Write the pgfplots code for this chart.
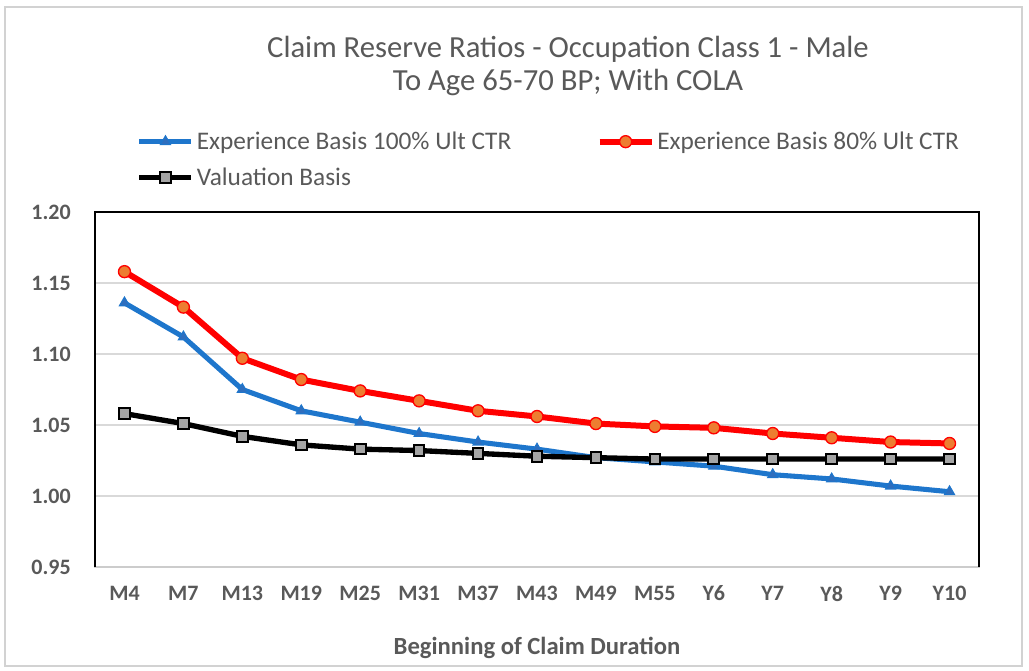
\documentclass[border=0pt]{standalone}
\usepackage{pgfplots}
\pgfplotsset{compat=1.18}
\usepackage{fontspec}
\setmainfont{Carlito}
\definecolor{txt}{RGB}{89,89,89}
\definecolor{bl}{RGB}{30,118,204}
\definecolor{blm}{RGB}{46,110,190}
\definecolor{rd}{RGB}{255,0,0}
\definecolor{org}{RGB}{237,125,49}
\definecolor{gr}{RGB}{165,165,165}
\begin{document}
\begin{tikzpicture}[x=0.75pt,y=0.75pt]
\path[use as bounding box] (0,0) rectangle (1029,671);
\draw[gray!35, line width=0.8pt] (5,664) rectangle (1022,5);
\begin{axis}[
  at={(71.25pt,78pt)}, anchor=south west,
  scale only axis, width=663pt, height=266.25pt,
  xmin=-0.5, xmax=14.5, ymin=0.95, ymax=1.20,
  xtick={0,...,14},
  xticklabels={M4,M7,M13,M19,M25,M31,M37,M43,M49,M55,Y6,Y7,Y8,Y9,Y10},
  ytick={0.95,1.00,1.05,1.10,1.15,1.20},
  yticklabel style={/pgf/number format/fixed,/pgf/number format/fixed zerofill,/pgf/number format/precision=2},
  /pgf/number format/assume math mode=true,
  major tick length=0pt,
  ymajorgrids, grid style={gray!30, line width=1pt},
  axis line style={gray!40, line width=1pt},
  tick label style={font=\fontsize{16.5}{18}\selectfont\bfseries, text=txt},
  yticklabel style={inner sep=0pt, xshift=-18pt},
  xticklabel style={inner sep=0pt, yshift=-14pt},
  xlabel={Beginning of Claim Duration},
  xlabel style={at={(axis description cs:0.5,0)}, anchor=center, yshift=-61pt, font=\fontsize{18.5}{20}\selectfont\bfseries, text=txt},
  legend columns=2,
  legend cell align=left,
  legend style={at={(axis description cs:0.047,1.234)}, anchor=north west, draw=none, fill=none,
    font=\fontsize{19}{21}\selectfont, text=txt, inner sep=0pt,
    /tikz/column 2/.style={column sep=62pt},
    row sep=8pt},
  legend image code/.code={\draw[mark repeat=2,mark phase=2] plot coordinates {(0pt,0pt) (19.5pt,0pt) (39pt,0pt)};},
  clip=false,
]
\addplot[bl, line width=3.8pt, mark=triangle*, mark size=4.4pt, mark options={fill=blm, draw=bl, line width=0.8pt}]
 coordinates {(0,1.136) (1,1.112) (2,1.075) (3,1.060) (4,1.052) (5,1.044) (6,1.038) (7,1.033) (8,1.027) (9,1.024) (10,1.021) (11,1.015) (12,1.012) (13,1.007) (14,1.003)};
\addlegendentry{Experience Basis 100\% Ult CTR}
\addplot[rd, line width=4.5pt, mark=*, mark size=4.5pt, mark options={fill=org, draw=rd, line width=1pt}]
 coordinates {(0,1.158) (1,1.133) (2,1.097) (3,1.082) (4,1.074) (5,1.067) (6,1.060) (7,1.056) (8,1.051) (9,1.049) (10,1.048) (11,1.044) (12,1.041) (13,1.038) (14,1.037)};
\addlegendentry{Experience Basis 80\% Ult CTR}
\addplot[black, line width=4pt, mark=square*, mark size=4pt, mark options={fill=gr, draw=black, line width=1.5pt}]
 coordinates {(0,1.058) (1,1.051) (2,1.042) (3,1.036) (4,1.033) (5,1.032) (6,1.030) (7,1.028) (8,1.027) (9,1.026) (10,1.026) (11,1.026) (12,1.026) (13,1.026) (14,1.026)};
\addlegendentry{Valuation Basis}
\draw[black, line width=1pt] (rel axis cs:0,0) -- (rel axis cs:0,1) -- (rel axis cs:1,1) -- (rel axis cs:1,0);
\end{axis}
\node[text=txt, font=\fontsize{23}{25}\selectfont, align=center] at (568,605) {Claim Reserve Ratios - Occupation Class 1 - Male\\To Age 65-70 BP; With COLA};
\end{tikzpicture}
\end{document}
